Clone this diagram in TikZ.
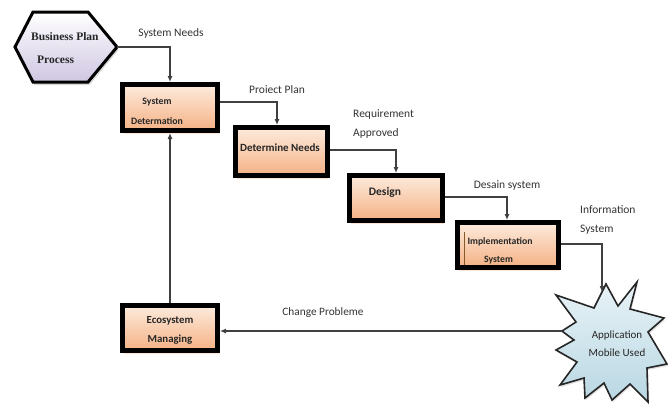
\documentclass[tikz,border=0pt]{standalone}
\usepackage{fontspec}
\setmainfont{Carlito}
\newfontfamily\hexfont{Liberation Serif}
\usetikzlibrary{shadows,arrows.meta}
\definecolor{boxlight}{HTML}{FDEBDD}
\definecolor{boxdark}{HTML}{F4B184}
\definecolor{hexdark}{HTML}{CFC6E2}
\definecolor{starlight}{HTML}{E8F3F7}
\definecolor{stardark}{HTML}{B9D7E3}
\definecolor{linegray}{HTML}{404040}
\tikzset{
 procbox/.style={draw=black, line width=4.8pt, top color=boxlight, bottom color=boxdark, inner sep=0pt,
   drop shadow={shadow xshift=1.5pt, shadow yshift=-3pt, fill=boxdark, opacity=0.35}},
 boxtext/.style={font=\bfseries\fontsize{11}{12}\selectfont, inner sep=0pt, align=center, text=black!85},
 flowlbl/.style={font=\fontsize{11.5}{19}\selectfont, inner sep=0pt, align=left, text=black!80},
 arr/.style={draw=linegray, line width=1.1pt, -{Latex[length=6pt,width=5pt]}},
}
\begin{document}
\begin{tikzpicture}[x=1pt,y=-1pt]
\useasboundingbox (0,0) rectangle (668,405);

% hexagon
\draw[line width=3pt, top color=white, bottom color=hexdark,
  drop shadow={shadow xshift=1.5pt, shadow yshift=-3pt, fill=gray, opacity=0.3}]
  (15,47) -- (33,12) -- (88,12) -- (117,47) -- (88,82) -- (33,82) -- cycle;
\coordinate (hexE) at (117,47);
\node[anchor=west, inner sep=0pt, align=left, font=\hexfont\bfseries\fontsize{11.5}{23}\selectfont, text=black!85]
  (hex) at (31,48.5) {Business Plan\\\hspace{6pt}Process};

% process boxes
\node[procbox, minimum width=95.2pt, minimum height=46.2pt] (sysdet) at (170,107.5) {};
\node[procbox, minimum width=92.2pt, minimum height=48.2pt] (detneeds) at (281.5,151.5) {};
\node[procbox, minimum width=93.2pt, minimum height=45.2pt] (design) at (396,198) {};
\node[procbox, minimum width=101.2pt, minimum height=45.2pt] (impl) at (508,245) {};
\node[procbox, minimum width=95.2pt, minimum height=45.2pt] (eco) at (170,328) {};

\node[boxtext, font=\bfseries\fontsize{9.8}{20}\selectfont] (tsysdet) at (157,111) {System\\Determation};
\node[boxtext] (tdetneeds) at (280,147.5) {Determine Needs};
\node[boxtext, font=\bfseries\fontsize{11.5}{12}\selectfont] (tdesign) at (385,192) {Design};
\node[boxtext, font=\bfseries\fontsize{9.7}{18}\selectfont] (timpl) at (500,251) {Implementation\\[0pt]\hspace{-3pt}System};
\node[boxtext, font=\bfseries\fontsize{10.8}{19}\selectfont] (teco) at (170,330.5) {Ecosystem\\Managing};
\draw[brown!70!black, line width=0.6pt] (464,232) -- (464,265);

% starburst
\draw[line width=1.6pt, draw=black!85, top color=starlight, bottom color=stardark,
  drop shadow={shadow xshift=1pt, shadow yshift=-2pt, fill=gray, opacity=0.25}]
  (637,282) -- (630,309) -- (664,318) -- (648,332) -- (667,364) -- (647,368)
  -- (648,402) -- (630,384) -- (612,400) -- (604,383) -- (585,398) -- (584,378)
  -- (560,385) -- (577,362) -- (556,350) -- (574,340) -- (562,331) -- (576,322)
  -- (556,295) -- (594,308) -- (606,284) -- (618,306) -- cycle;
\coordinate (starN) at (602,292);
\coordinate (starW) at (562,331);
\node[inner sep=0pt, align=center, font=\fontsize{11}{18}\selectfont, text=black!85]
  (app) at (617,344) {Application\\Mobile Used};

% connectors
\draw[arr] (hexE) -| (sysdet.north);
\draw[arr] ([yshift=5.5pt]sysdet.east) -| ([xshift=-4.5pt]detneeds.north);
\draw[arr] ([yshift=1.5pt]detneeds.east) -| (design.north);
\draw[arr] ([yshift=1pt]design.east) -| ([xshift=-1pt]impl.north);
\draw[arr] ([yshift=1pt]impl.east) -| (starN);
\draw[arr] (starW) -- (starW -| eco.east);
\draw[arr] (eco.north) -- (sysdet.south);

% labels
\node[flowlbl] (lneeds) at (171,33) {System Needs};
\node[flowlbl] (lplan) at (277,90) {Proiect Plan};
\node[flowlbl, anchor=west] (lreq) at (353,123.5) {Requirement\\Approved};
\node[flowlbl] (ldesain) at (507,185) {Desain system};
\node[flowlbl, anchor=west] (linfo) at (580,220) {Information\\System};
\node[flowlbl, font=\fontsize{11.3}{19}\selectfont] (lchange) at (323,313) {Change Probleme};
\end{tikzpicture}
\end{document}
